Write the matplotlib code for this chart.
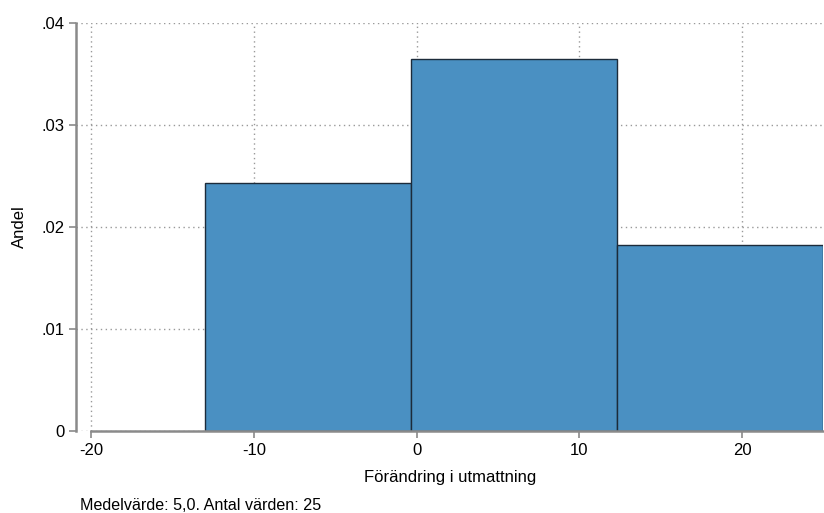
import matplotlib.pyplot as plt

# histogram bins
bin_edges = [-13.0, -0.33, 12.33, 25.0]
heights = [0.0243, 0.0365, 0.0182]
x_ticks = [-20, -10, 0, 10, 20]
y_ticks = [0, 0.01, 0.02, 0.03, 0.04]
y_labels = ["0", ".01", ".02", ".03", ".04"]

plt.rcParams['font.family'] = ['Liberation Sans', 'DejaVu Sans']

fig = plt.figure(figsize=(8.24, 5.13), dpi=100)
ax = fig.add_axes([0.0922, 0.1598, 0.907, 0.7952])

widths = [bin_edges[i + 1] - bin_edges[i] for i in range(len(heights))]
ax.bar(bin_edges[:-1], heights, width=widths, align='edge',
       color='#4a90c2', edgecolor='#1c2b3a', linewidth=1.0, zorder=3)

ax.set_xlim(-20.95, 25.0)
ax.set_ylim(0, 0.04)
ax.set_xticks(x_ticks)
ax.set_xticklabels([str(t) for t in x_ticks])
ax.set_yticks(y_ticks)
ax.set_yticklabels(y_labels)

ax.grid(True, linestyle=(0, (1, 2.5)), color='#999999', linewidth=1.0, zorder=0)

gray = '#8a8a8a'
for side in ['top', 'right']:
    ax.spines[side].set_visible(False)
ax.spines['left'].set_color(gray)
ax.spines['bottom'].set_color(gray)
ax.spines['left'].set_linewidth(1.8)
ax.spines['bottom'].set_linewidth(1.8)
ax.spines['left'].set_bounds(0, 0.04)
ax.spines['bottom'].set_bounds(-20, 25.0)
ax.spines['bottom'].set_zorder(4)
ax.tick_params(axis='both', colors=gray, labelcolor='black', labelsize=12,
               length=5, width=1.2, direction='out')

ax.set_xlabel("Förändring i utmattning", fontsize=12, labelpad=9)
ax.set_ylabel("Andel", fontsize=12, labelpad=10)

fig.text(80 / 824, 1 - 505 / 513, "Medelvärde: 5,0. Antal värden: 25",
         fontsize=11.6, va='center', ha='left')

fig.savefig("out.png", dpi=100)
